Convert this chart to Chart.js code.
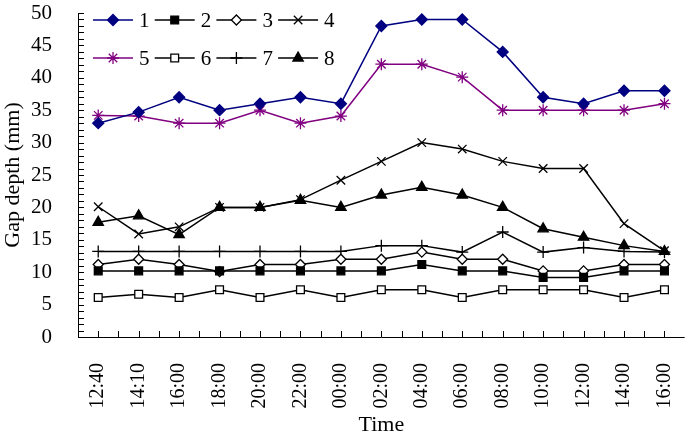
<!DOCTYPE html>
<html>
<head>
<meta charset="utf-8">
<script src="https://cdn.jsdelivr.net/npm/chart.js@4/dist/chart.umd.min.js"></script>
<style>
  html, body { margin: 0; padding: 0; background: #fff; overflow: hidden; }
  /* a bit wider than the window: the layout keeps ~8px spare at the right */
  #wrap { width: 692px; height: 441px; }
  canvas { display: block; }
</style>
</head>
<body>
<div id="wrap"><canvas id="chart"></canvas></div>
<script>
// sampling times (category axis)
const times = ['12:40', '14:10', '16:00', '18:00', '20:00', '22:00', '00:00', '02:00',
  '04:00', '06:00', '08:00', '10:00', '12:00', '14:00', '16:00'];

// gap depth (mm) for measuring points 1..8
const gap1 = [33, 34.7, 37, 35, 36, 37, 36, 48, 49, 49, 44, 37, 36, 38, 38];
const gap2 = [10.2, 10.2, 10.2, 10.2, 10.2, 10.2, 10.2, 10.2, 11.2, 10.2, 10.2, 9.2, 9.2, 10.2, 10.2];
const gap3 = [11.2, 12, 11.2, 10.1, 11.2, 11.2, 12, 12, 13.1, 12, 12, 10.2, 10.2, 11.2, 11.2];
const gap4 = [20.1, 15.9, 17, 20, 20, 21.2, 24.2, 27.1, 30, 29, 27.1, 26, 26, 17.5, 13.3];
const gap5 = [34.2, 34.1, 33, 33, 35, 33, 34.1, 42.1, 42.1, 40.1, 35, 35, 35, 35, 36];
const gap6 = [6.1, 6.6, 6.1, 7.3, 6.1, 7.3, 6.1, 7.3, 7.3, 6.1, 7.3, 7.3, 7.3, 6.1, 7.3];
const gap7 = [13.2, 13.2, 13.2, 13.2, 13.2, 13.2, 13.2, 14.1, 14.1, 13.1, 16.2, 13.1, 13.8, 13.2, 13.1];
const gap8 = [17.7, 18.7, 15.8, 20, 20, 21.1, 20, 21.9, 23.1, 21.9, 20, 16.7, 15.4, 14.1, 13.2];

const labels = ['1', '2', '3', '4', '5', '6', '7', '8'];
const yMin = 0, yMax = 50, yStep = 5;

const FONT = "'Liberation Serif', 'Times New Roman', serif";

function series(label, data, color, style, fill, radius) {
  return {
    label: label,
    data: data,
    borderColor: color,
    backgroundColor: color,
    borderWidth: 1.5,
    pointStyle: style,
    pointRadius: radius,
    pointBackgroundColor: fill,
    pointBorderColor: color,
    pointBorderWidth: 1.3,
    tension: 0
  };
}

// draw axis lines with small inward ticks
const axisTicks = {
  id: 'axisTicks',
  beforeDatasetsDraw(chart) {
    const ctx = chart.ctx;
    const { left, right, top, bottom } = chart.chartArea;
    const xs = chart.scales.x, ys = chart.scales.y;
    ctx.save();
    ctx.strokeStyle = '#000';
    ctx.lineWidth = 1;
    ctx.beginPath();
    ctx.moveTo(left + 0.5, top);
    ctx.lineTo(left + 0.5, bottom + 0.5);
    ctx.lineTo(right, bottom + 0.5);
    for (let v = yMin; v <= yMax; v++) {
      const py = Math.round(ys.getPixelForValue(v)) + 0.5;
      ctx.moveTo(left, py);
      ctx.lineTo(left + 6, py);
    }
    const step = xs.getPixelForValue(1) - xs.getPixelForValue(0);
    const x0 = xs.getPixelForValue(0) - step / 2;
    for (let i = 0; i <= times.length * 2; i++) {
      const px = Math.round(x0 + i * step / 2) + 0.5;
      ctx.moveTo(px, bottom);
      ctx.lineTo(px, bottom - 6);
    }
    ctx.stroke();
    ctx.restore();
  }
};

// legend in two rows inside the plot
const innerLegend = {
  id: 'innerLegend',
  afterDraw(chart) {
    const ctx = chart.ctx;
    chart.data.datasets.forEach((ds, i) => {
      const col = i % 4, row = Math.floor(i / 4);
      const x0 = 93 + col * 61.7, y0 = 20 + row * 38;
      ctx.save();
      ctx.strokeStyle = ds.borderColor;
      ctx.lineWidth = ds.borderWidth;
      ctx.beginPath();
      ctx.moveTo(x0, y0);
      ctx.lineTo(x0 + 40, y0);
      ctx.stroke();
      ctx.fillStyle = ds.pointBackgroundColor;
      ctx.strokeStyle = ds.pointBorderColor;
      ctx.lineWidth = ds.pointBorderWidth;
      Chart.helpers.drawPoint(ctx, { pointStyle: ds.pointStyle, radius: ds.pointRadius, borderWidth: ds.pointBorderWidth }, x0 + 20, y0);
      ctx.fillStyle = '#000';
      ctx.font = '21px ' + FONT;
      ctx.textBaseline = 'middle';
      ctx.textAlign = 'left';
      ctx.fillText(ds.label, x0 + 46, y0 + 1);
      ctx.restore();
    });
  }
};

new Chart(document.getElementById('chart'), {
  type: 'line',
  data: {
    labels: times,
    datasets: [
      series(labels[0], gap1, '#000080', 'rectRot', '#000080', 5.5),
      series(labels[1], gap2, '#000000', 'rect', '#000000', 5.5),
      series(labels[2], gap3, '#000000', 'rectRot', '#ffffff', 5),
      series(labels[3], gap4, '#000000', 'crossRot', '#000000', 6),
      series(labels[4], gap5, '#800080', 'star', '#800080', 6),
      series(labels[5], gap6, '#000000', 'rect', '#ffffff', 5.5),
      series(labels[6], gap7, '#000000', 'cross', '#000000', 6),
      series(labels[7], gap8, '#000000', 'triangle', '#000000', 6)
    ]
  },
  options: {
    responsive: true,
    maintainAspectRatio: false,
    animation: false,
    layout: { padding: { top: 13, right: 1, left: 0, bottom: 0 } },
    plugins: {
      legend: { display: false },
      tooltip: { enabled: false }
    },
    scales: {
      x: {
        offset: true,
        grid: { display: false },
        border: { display: false },
        ticks: {
          color: '#000',
          font: { family: FONT, size: 20 },
          minRotation: 90,
          maxRotation: 90,
          padding: 18,
          autoSkip: false
        },
        title: {
          display: true,
          text: 'Time',
          color: '#000',
          font: { family: FONT, size: 22 },
          padding: { top: 0, bottom: 3 }
        },
        afterFit(scale) {
          scale.height = 104;
          scale.paddingLeft = 0;
          scale.paddingRight = 0;
        }
      },
      y: {
        min: yMin,
        max: yMax,
        grid: { display: false },
        border: { display: false },
        ticks: {
          stepSize: yStep,
          color: '#000',
          font: { family: FONT, size: 21 },
          padding: 18
        },
        title: {
          display: true,
          text: 'Gap depth (mm)',
          color: '#000',
          font: { family: FONT, size: 22 },
          padding: { top: 0, bottom: 0 }
        },
        afterFit(scale) {
          scale.width = 78;
          scale.paddingTop = 0;
          scale.paddingBottom = 0;
        }
      }
    }
  },
  plugins: [axisTicks, innerLegend]
});
</script>
</body>
</html>
